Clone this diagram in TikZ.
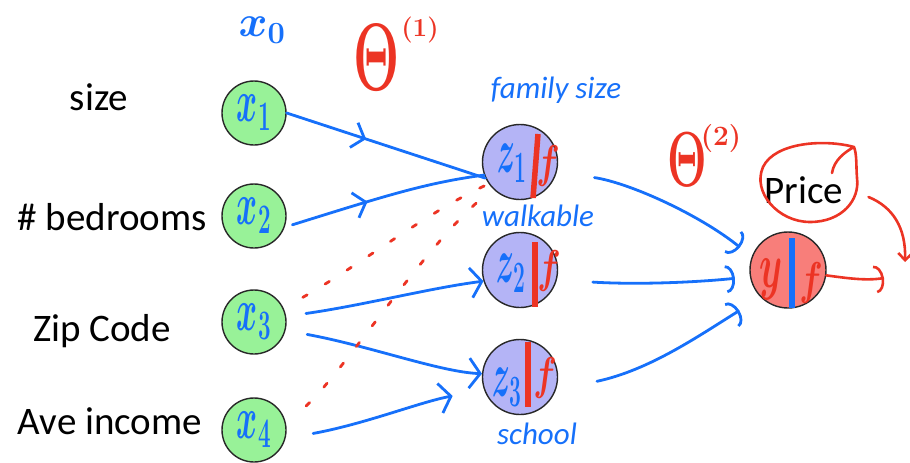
\RequirePackage{fix-cm}
\documentclass[tikz,border=0pt]{standalone}
\usepackage{fontspec}
\usepackage{graphicx}
\setmainfont{Carlito}
\usetikzlibrary{arrows.meta,decorations.markings}

\definecolor{pen}{RGB}{22,112,250}
\definecolor{ink}{RGB}{236,52,36}
\definecolor{ingreen}{RGB}{152,242,152}
\definecolor{hidviolet}{RGB}{180,180,246}
\definecolor{outred}{RGB}{248,126,122}
\definecolor{rim}{RGB}{40,40,40}

\begin{document}
\begin{tikzpicture}[x=1pt,y=-1pt,
  inp/.style={circle,draw=rim,line width=1.4pt,fill=ingreen,minimum size=64pt,inner sep=0pt},
  hid/.style={circle,draw=rim,line width=1.4pt,fill=hidviolet,minimum size=75pt,inner sep=0pt},
  outn/.style={circle,draw=rim,line width=1.4pt,fill=outred,minimum size=76pt,inner sep=0pt},
  feat/.style={inner sep=0pt,text=black,font=\fontsize{39}{44}\selectfont},
  scrawl/.style={inner sep=0pt,text=pen,font=\fontsize{31}{36}\selectfont\itshape},
  penmath/.style={inner sep=0pt,text=pen,font=\fontsize{40}{44}\selectfont\boldmath},
  inkmath/.style={inner sep=0pt,text=ink,font=\fontsize{46}{50}\selectfont\boldmath},
  wire/.style={draw=pen,line width=2.8pt,line cap=round},
  redline/.style={draw=ink,line width=2.6pt,line cap=round,line join=round},
  dots/.style={draw=ink,line width=2.8pt,line cap=round,dash pattern=on 5pt off 21pt},
  barb/.style={-{Straight Barb[length=11pt,width=30pt]}},
  arcbarb/.style={-{Arc Barb[length=9pt,width=28pt]}},
  midtip/.style={postaction={decorate},decoration={markings,
    mark=at position #1 with {\arrow{Straight Barb[length=11pt,width=26pt]}}}},
  redbar/.style={draw=ink,line width=5.5pt},
  bluebar/.style={draw=pen,line width=5.5pt}
]
\useasboundingbox (0,0) rectangle (910,463);

% feature names
\node[feat] (lsize) at (99,97) {size};
\node[feat] (lbed)  at (112,217) {\# bedrooms};
\node[feat] (lzip)  at (102,331) {Zip Code};
\node[feat] (linc)  at (110,421) {Ave income};

% input layer
\node[inp] (x1) at (254,113) {};
\node[inp] (x2) at (254,216) {};
\node[inp] (x3) at (254,322) {};
\node[inp] (x4) at (254,430) {};
\node[penmath] (x1t) at (x1.center) {\scalebox{0.8}[1.5]{$x_1$}};
\node[penmath] (x2t) at (x2.center) {\scalebox{0.8}[1.5]{$x_2$}};
\node[penmath] (x3t) at (x3.center) {\scalebox{0.8}[1.5]{$x_3$}};
\node[penmath] (x4t) at (x4.center) {\scalebox{0.8}[1.5]{$x_4$}};

% hidden layer
\node[hid] (z1) at (520,162) {};
\node[hid] (z2) at (520,270) {};
\node[hid] (z3) at (520,377) {};
\node[penmath] (z1t) at (512,163) {\scalebox{0.75}[1.6]{$z_1$}};
\node[penmath] (z2t) at (511,273) {\scalebox{0.75}[1.6]{$z_2$}};
\node[penmath] (z3t) at (507,387) {\scalebox{0.75}[1.6]{$z_3$}};
\draw[redbar] ([xshift=18pt,yshift=28pt]z1.center) -- ([xshift=13pt,yshift=-36pt]z1.center);
\draw[redbar] ([xshift=15pt,yshift=28pt]z2.center) -- ([xshift=15pt,yshift=-37pt]z2.center);
\draw[redbar] ([xshift=8pt,yshift=35pt]z3.center) -- ([xshift=8pt,yshift=-30pt]z3.center);
\node[inkmath] (z1f) at (548,166) {\scalebox{0.75}[1]{$f$}};
\node[inkmath] (z2f) at (549,271) {\scalebox{0.75}[1]{$f$}};
\node[inkmath] (z3f) at (545,378) {\scalebox{0.75}[1]{$f$}};

% output unit
\node[outn] (out) at (788,270) {};
\node[inkmath] (outy) at (771,279) {\scalebox{0.8}[1.4]{$y$}};
\node[inkmath] (outf) at (811,283) {\scalebox{0.75}[1]{$f$}};
\draw[bluebar] ([xshift=4pt,yshift=32pt]out.center) -- ([xshift=4pt,yshift=-38pt]out.center);

% hidden unit captions
\node[scrawl] (cfam)  at (556,90)  {family size};
\node[scrawl] (cwalk) at (538,216) {walkable};
\node[scrawl] (csch)  at (537,434) {school};

% bias and weight annotations
\node[penmath,font=\fontsize{44}{48}\selectfont\boldmath] (x0) at (262,30) {$x_0$};
\node[inner sep=0pt,text=ink,font=\fontsize{96}{96}\selectfont\boldmath] (th1) at (377,58) {\scalebox{0.55}[1]{$\Theta$}};
\node[inner sep=0pt,text=ink,font=\fontsize{26}{28}\selectfont\boldmath] (th1s) at (420,30) {$(1)$};
\node[inner sep=0pt,text=ink,font=\fontsize{78}{78}\selectfont\boldmath] (th2) at (687,160) {\scalebox{0.58}[1]{$\Theta$}};
\node[inner sep=0pt,text=ink,font=\fontsize{28}{30}\selectfont\boldmath] (th2s) at (721,138) {$(2)$};

% target, circled with a hooked loop
\node[feat] (price) at (804,190) {Price};
\draw[redline] (832,173) .. controls (834,160) and (845,152) .. (854,147)
  .. controls (825,139) and (775,142) .. (763,167)
  .. controls (752,192) and (778,222) .. (810,222)
  .. controls (842,222) and (860,200) .. (857,178)
  .. controls (856,165) and (857,155) .. (854,147);
\coordinate (pricetip) at (905,262);
\draw[redline,-{Straight Barb[length=7pt,width=14pt]}] ([xshift=25pt,yshift=-7pt]price.east)
  .. controls (893,207) and (906,228) .. (pricetip);
\coordinate (outtip) at (884,278);
\draw[redline,arcbarb] (out.-8) .. controls (846,278) and (866,281) .. (outtip);

% links from the inputs
\draw[wire,midtip=0.4] (x1.east) -- (z1.205);
\draw[wire,midtip=0.42,shorten <=8pt] (x2.-20) .. controls (385,196) and (425,183) .. (z1.200);
\draw[wire,barb,shorten <=20pt] (x3.10) .. controls (365,305) and (430,288) .. (z2.197);
\draw[wire,barb,shorten <=22pt] (x3.-15) .. controls (370,346) and (440,372) .. (z3.175);
\draw[wire,barb,shorten <=28pt,shorten >=32pt] (x4.-15) .. controls (365,424) and (420,402) .. (z3.200);

% dotted links
\draw[dots,shorten <=22pt] (x3.25) .. controls (360,265) and (430,210) .. (z1.215);
\draw[dots,shorten <=27pt,shorten >=12pt] (x4.10) .. controls (345,370) and (425,245) .. (z1.225);

% links to the output
\draw[wire,arcbarb,shorten <=38pt,shorten >=15pt] (z1.-15) .. controls (630,183) and (700,215) .. (out.160);
\draw[wire,arcbarb,shorten <=36pt,shorten >=15pt] (z2.-15) .. controls (640,285) and (700,282) .. (out.190);
\draw[wire,arcbarb,shorten <=42pt,shorten >=25pt] (z3.-20) .. controls (650,370) and (700,335) .. (out.225);
\end{tikzpicture}
\end{document}
